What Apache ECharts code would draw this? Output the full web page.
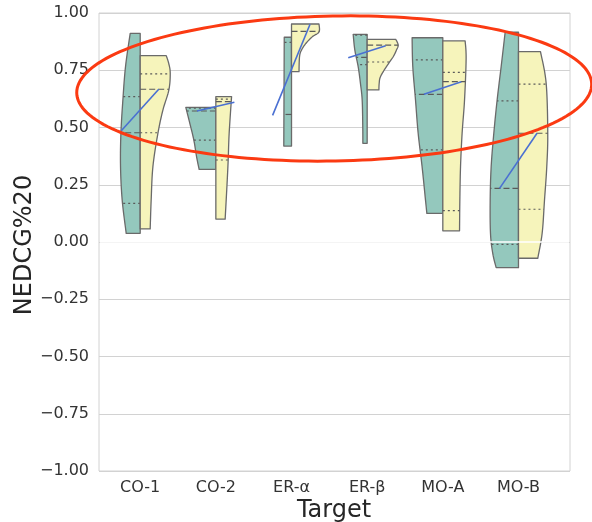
<!DOCTYPE html>
<html><head><meta charset="utf-8">
<script src="https://cdn.jsdelivr.net/npm/echarts@6/dist/echarts.min.js"></script>
<style>html,body{margin:0;padding:0;background:#fff}#c{width:592px;height:522px}</style>
</head><body><div id="c"></div>
<script>
// ---------- data ----------
const categories = ['CO-1', 'CO-2', 'ER-α', 'ER-β', 'MO-A', 'MO-B'];
const yTicks = [-1, -0.75, -0.5, -0.25, 0, 0.25, 0.5, 0.75, 1];

// left (teal) half-violin profiles: values (top -> bottom) and half-widths (category units)
const leftValues = [
  [0.911, 0.766, 0.620, 0.474, 0.329, 0.183, 0.038],
  [0.588, 0.518, 0.445, 0.373, 0.317],
  [0.894, 0.650, 0.419],
  [0.907, 0.838, 0.766, 0.693, 0.620, 0.500, 0.431],
  [0.892, 0.766, 0.620, 0.475, 0.329, 0.183, 0.125],
  [0.916, 0.766, 0.620, 0.475, 0.329, 0.183, 0.038, -0.050, -0.112]
];
const leftWidths = [
  [0.132, 0.194, 0.229, 0.255, 0.260, 0.238, 0.185],
  [0.397, 0.344, 0.291, 0.255, 0.221],
  [0.096, 0.099, 0.102],
  [0.185, 0.163, 0.119, 0.089, 0.066, 0.058, 0.057],
  [0.406, 0.397, 0.361, 0.326, 0.274, 0.229, 0.211],
  [0.176, 0.229, 0.282, 0.326, 0.361, 0.374, 0.370, 0.340, 0.295]
];
// right (yellow) half-violin profiles
const rightValues = [
  [0.814, 0.780, 0.737, 0.664, 0.576, 0.474, 0.329, 0.183, 0.057],
  [0.635, 0.475, 0.358, 0.260, 0.100],
  [0.952, 0.926, 0.912, 0.897, 0.868, 0.838, 0.809, 0.744],
  [0.885, 0.860, 0.838, 0.809, 0.766, 0.722, 0.693, 0.664],
  [0.878, 0.800, 0.620, 0.475, 0.329, 0.183, 0.049],
  [0.831, 0.693, 0.475, 0.329, 0.183, 0.038, -0.071]
];
const rightWidths = [
  [0.344, 0.377, 0.397, 0.379, 0.300, 0.234, 0.168, 0.145, 0.132],
  [0.208, 0.176, 0.163, 0.149, 0.123],
  [0.363, 0.370, 0.350, 0.278, 0.192, 0.132, 0.106, 0.099],
  [0.379, 0.410, 0.387, 0.344, 0.255, 0.176, 0.159, 0.155],
  [0.295, 0.308, 0.287, 0.255, 0.234, 0.225, 0.221],
  [0.291, 0.366, 0.387, 0.374, 0.344, 0.313, 0.255]
];
// quartiles [Q1, median, Q3] (null = not visible)
const leftQuartiles = [
  [0.169, 0.477, 0.635],
  [0.445, 0.572, 0.584],
  [null, 0.557, 0.872],
  [0.775, 0.806, 0.903],
  [0.402, 0.645, 0.795],
  [-0.010, 0.234, 0.616]
];
const rightQuartiles = [
  [0.477, 0.667, 0.734],
  [0.358, 0.613, 0.624],
  [null, 0.920, null],
  [0.786, 0.860, null],
  [0.137, 0.700, 0.741],
  [0.143, 0.475, 0.689]
];
// connecting line end values (left point -> right point)
const leftCenters = [0.486, 0.572, 0.553, 0.805, 0.645, 0.234];
const rightCenters = [0.667, 0.610, 0.951, 0.857, 0.700, 0.475];

// ---------- layout / style ----------
const X_MIN = -0.5445, X_MAX = 5.681;
const TEAL = '#94c8bd', YELLOW = '#f6f4bb', EDGE = '#6a6a6a', QCOL = '#5a5a5a';
const FONT = '"DejaVu Sans", sans-serif';

function smoothEdge(vals, ws) {
  // Catmull-Rom sampling through the read profile points (rendering only)
  const n = vals.length, out = [];
  if (n < 3) { for (let k = 0; k < n; k++) out.push([vals[k], ws[k]]); return out; }
  const P = (k) => [vals[Math.max(0, Math.min(n - 1, k))], ws[Math.max(0, Math.min(n - 1, k))]];
  for (let k = 0; k < n - 1; k++) {
    const p0 = P(k - 1), p1 = P(k), p2 = P(k + 1), p3 = P(k + 2);
    for (let s = 0; s < 10; s++) {
      const t = s / 10, t2 = t * t, t3 = t2 * t;
      const f = (a, b, c, d) => 0.5 * ((2 * b) + (-a + c) * t + (2 * a - 5 * b + 4 * c - d) * t2 + (-a + 3 * b - 3 * c + d) * t3);
      out.push([f(p0[0], p1[0], p2[0], p3[0]), Math.max(0, f(p0[1], p1[1], p2[1], p3[1]))]);
    }
  }
  out.push([vals[n - 1], ws[n - 1]]);
  return out;
}
function widthAt(edge, v) {
  for (let k = 0; k < edge.length - 1; k++) {
    const a = edge[k], b = edge[k + 1];
    if ((v <= a[0] && v >= b[0]) || (v >= a[0] && v <= b[0])) {
      const t = (a[0] === b[0]) ? 0 : (v - a[0]) / (b[0] - a[0]);
      return a[1] + t * (b[1] - a[1]);
    }
  }
  return edge[edge.length - 1][1];
}

function renderViolin(params, api) {
  const i = params.dataIndex;
  const children = [];
  const sides = [
    { vals: leftValues[i], ws: leftWidths[i], q: leftQuartiles[i], dir: -1, fill: TEAL },
    { vals: rightValues[i], ws: rightWidths[i], q: rightQuartiles[i], dir: 1, fill: YELLOW }
  ];
  sides.forEach(sd => {
    const edge = smoothEdge(sd.vals, sd.ws);
    const pts = [api.coord([i, sd.vals[0]])];
    edge.forEach(p => pts.push(api.coord([i + sd.dir * p[1], p[0]])));
    pts.push(api.coord([i, sd.vals[sd.vals.length - 1]]));
    children.push({ type: 'polygon', shape: { points: pts },
      style: { fill: sd.fill, stroke: EDGE, lineWidth: 1.3, lineJoin: 'round' } });
    sd.q.forEach((qv, qi) => {
      if (qv === null) return;
      const w = widthAt(edge, qv);
      const a = api.coord([i, qv]), b = api.coord([i + sd.dir * w, qv]);
      children.push({ type: 'line', shape: { x1: a[0], y1: a[1], x2: b[0], y2: b[1] },
        style: { stroke: QCOL, lineWidth: 1.2, lineDash: qi === 1 ? [6, 3] : [2, 3] } });
    });
  });
  return { type: 'group', children };
}

function renderZero(params, api) {
  const a = api.coord([X_MIN, 0]), b = api.coord([X_MAX, 0]);
  return { type: 'line', shape: { x1: a[0] + 1, y1: a[1], x2: b[0] - 1, y2: b[1] },
    style: { stroke: '#ffffff', lineWidth: 1.6 } };
}

function renderLink(params, api) {
  const i = params.dataIndex;
  const a = api.coord([i - 0.25, leftCenters[i]]), b = api.coord([i + 0.245, rightCenters[i]]);
  return { type: 'line', shape: { x1: a[0], y1: a[1], x2: b[0], y2: b[1] },
    style: { stroke: '#4a70d2', lineWidth: 1.6 } };
}

// ellipse annotation outline
const ellPts = [];
(function () {
  const cx = 334.2, cy = 88.5, rx = 257.5, ry = 72.5, rot = -1.0 * Math.PI / 180;
  for (let k = 0; k <= 180; k++) {
    const t = k / 180 * 2 * Math.PI;
    const ex = rx * Math.cos(t), ey = ry * Math.sin(t);
    ellPts.push([cx + ex * Math.cos(rot) - ey * Math.sin(rot), cy + ex * Math.sin(rot) + ey * Math.cos(rot)]);
  }
})();

const chart = echarts.init(document.getElementById('c'), null, { renderer: 'canvas' });
chart.setOption({
  backgroundColor: '#ffffff',
  animation: false,
  grid: { left: 99, right: 22, top: 13, bottom: 51, show: true, borderColor: '#d2d2d2', borderWidth: 1, backgroundColor: 'transparent' },
  xAxis: {
    type: 'value', min: X_MIN, max: X_MAX,
    splitLine: { show: false }, axisLine: { show: false }, axisTick: { show: false },
    axisLabel: { customValues: [0, 1, 2, 3, 4, 5], formatter: v => categories[Math.round(v)] || '',
      fontSize: 16, color: '#333333', fontFamily: FONT, margin: 9 }
  },
  yAxis: {
    type: 'value', min: yTicks[0], max: yTicks[yTicks.length - 1], interval: 0.25,
    axisLine: { show: false }, axisTick: { show: false },
    splitLine: { show: true, lineStyle: { color: '#d2d2d2', width: 1 } },
    axisLabel: { fontSize: 16, color: '#333333', fontFamily: FONT, margin: 10,
      formatter: v => (v < 0 ? '\u2212' : '') + Math.abs(v).toFixed(2) }
  },
  series: [
    { type: 'custom', z: 2, renderItem: renderViolin, data: categories.map((c, i) => [i]), silent: true },
    { type: 'custom', z: 3, renderItem: renderZero, data: [[0]], silent: true },
    { type: 'custom', z: 4, renderItem: renderLink, data: categories.map((c, i) => [i]), silent: true }
  ],
  graphic: [
    { type: 'text', x: 25, y: 245, rotation: Math.PI / 2, z: 10,
      style: { text: 'NEDCG%20', fontSize: 24, fontFamily: FONT, fill: '#262626', align: 'center', verticalAlign: 'middle' } },
    { type: 'text', x: 334, y: 511, z: 10,
      style: { text: 'Target', fontSize: 24, fontFamily: FONT, fill: '#262626', align: 'center', verticalAlign: 'middle' } },
    { type: 'polyline', z: 20, shape: { points: ellPts },
      style: { stroke: '#fb3a12', lineWidth: 3, fill: null } }
  ]
});
</script>
</body></html>
